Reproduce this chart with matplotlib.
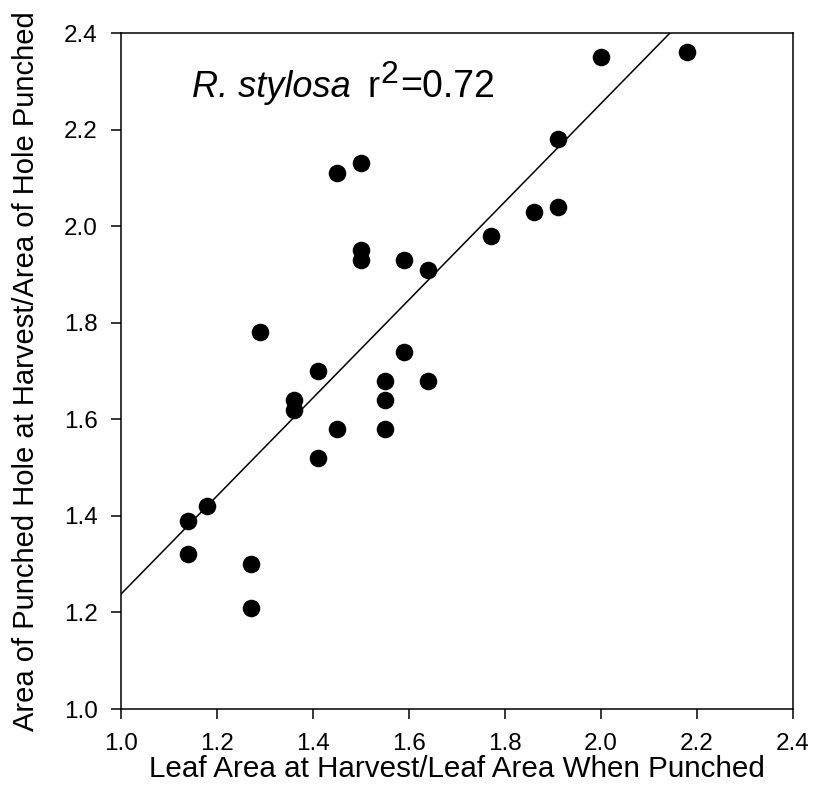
import numpy as np
import matplotlib.pyplot as plt

plt.rcParams['font.family'] = ['Liberation Sans', 'DejaVu Sans']

# leaf area ratio vs hole area ratio
leaf_ratio = [1.14, 1.14, 1.18, 1.27, 1.27, 1.29, 1.36, 1.36, 1.41, 1.41,
              1.45, 1.45, 1.50, 1.50, 1.50, 1.55, 1.55, 1.55, 1.59, 1.59,
              1.64, 1.64, 1.77, 1.86, 1.91, 1.91, 2.00, 2.18]
hole_ratio = [1.39, 1.32, 1.42, 1.30, 1.21, 1.78, 1.64, 1.62, 1.70, 1.52,
              1.58, 2.11, 2.13, 1.95, 1.93, 1.68, 1.64, 1.58, 1.93, 1.74,
              1.91, 1.68, 1.98, 2.03, 2.04, 2.18, 2.35, 2.36]

# regression line
intercept_at_1 = 1.238
slope = 1.016
line_x = [1.0, 2.4]

fig = plt.figure(figsize=(8.13, 7.96), dpi=100)
ax = fig.add_axes([121/813, 1 - 709/796, 672/813, 676/796])

ax.scatter(leaf_ratio, hole_ratio, s=160, color='black', zorder=3, linewidths=0)
line_y = [intercept_at_1 + slope * (x - 1.0) for x in line_x]
ax.plot(line_x, line_y, color='black', linewidth=1.1)

ax.set_xlim(1.0, 2.4)
ax.set_ylim(1.0, 2.4)
ax.set_xticks(np.arange(1.0, 2.41, 0.2))
ax.set_yticks(np.arange(1.0, 2.41, 0.2))
ax.xaxis.set_major_formatter(plt.FormatStrFormatter('%.1f'))
ax.yaxis.set_major_formatter(plt.FormatStrFormatter('%.1f'))
ax.tick_params(direction='out', length=7.2, width=1.1, labelsize=17.5)
ax.tick_params(axis='x', pad=10)
ax.tick_params(axis='y', pad=9.5)
for sp in ax.spines.values():
    sp.set_linewidth(1.1)

ax.set_xlabel('Leaf Area at Harvest/Leaf Area When Punched', fontsize=21.3, labelpad=0)
ax.set_ylabel('Area of Punched Hole at Harvest/Area of Hole Punched', fontsize=21, labelpad=17)

# species label + r^2, with a big raised "2"
t1 = ax.text(1.148, 2.267, 'R. stylosa', style='italic', fontsize=26, va='baseline', ha='left')
t2 = ax.annotate('r', xy=(1, 0), xycoords=t1, xytext=(12, 0), textcoords='offset points',
                 fontsize=26, va='bottom', ha='left')
t3 = ax.annotate('2', xy=(1, 0), xycoords=t2, xytext=(0.5, 11), textcoords='offset points',
                 fontsize=23, va='bottom', ha='left')
ax.annotate('=0.72', xy=(1, 0), xycoords=(t3, t2), xytext=(1.5, 0), textcoords='offset points',
            fontsize=27, va='bottom', ha='left')

fig.savefig('out.png', dpi=100)
